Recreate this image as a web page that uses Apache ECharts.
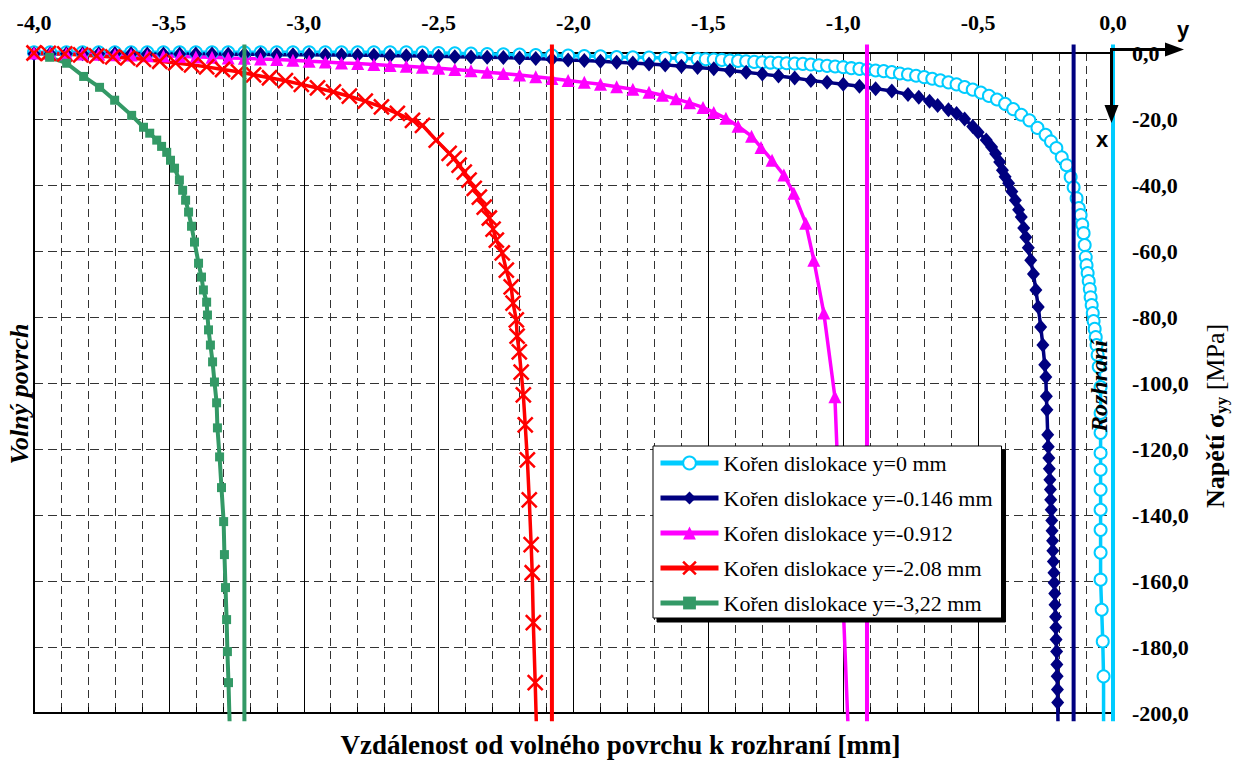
<!DOCTYPE html>
<html lang="cs">
<head>
<meta charset="UTF-8">
<script src="https://cdn.jsdelivr.net/npm/echarts@6/dist/echarts.min.js"></script>
<title>Napětí σyy</title>
<style>
  html, body { margin: 0; padding: 0; background: #fff; }
  #chart { width: 1239px; height: 763px; }
</style>
</head>
<body>
<div id="chart"></div>
<script>
// hodnoty: [vzdálenost mm, napětí MPa]
const names = ['Kořen dislokace y=0 mm', 'Kořen dislokace y=-0.146 mm', 'Kořen dislokace y=-0.912',
  'Kořen dislokace y=-2.08 mm', 'Kořen dislokace y=-3,22 mm'];
const rootX = [0, -0.146, -0.912, -2.08, -3.22];   // polohy kořenů dislokací
const rootY = [2.6, -202.5];                       // svislé čáry kořenů
const xTicks = { min: -4, max: 0, step: 0.5 };
const yTicks = { min: -200, max: 0, step: 20 };

const skyData = [
  [-4.00,0.2],[-3.94,0.2],[-3.88,0.2],[-3.82,0.2],[-3.76,0.2],[-3.70,0.2],[-3.64,0.2],[-3.58,0.2],[-3.52,0.2],[-3.46,0.2],
  [-3.40,0.2],[-3.34,0.2],[-3.28,0.2],[-3.22,0.2],[-3.16,0.2],[-3.10,0.2],[-3.04,0.2],[-2.98,0.2],[-2.92,0.2],[-2.86,0.2],
  [-2.80,0.2],[-2.74,0.2],[-2.68,0.2],[-2.62,0.2],[-2.56,0.1],[-2.50,0.0],[-2.44,-0.1],[-2.38,-0.2],[-2.32,-0.3],[-2.26,-0.4],
  [-2.20,-0.5],[-2.14,-0.6],[-2.08,-0.7],[-2.02,-0.8],[-1.96,-0.9],[-1.90,-1.0],[-1.84,-1.2],[-1.78,-1.3],[-1.72,-1.4],[-1.66,-1.5],
  [-1.60,-1.6],[-1.54,-1.8],
  [-1.51,-1.9],[-1.48,-2.0],[-1.45,-2.1],[-1.42,-2.3],[-1.39,-2.4],[-1.36,-2.5],[-1.33,-2.7],[-1.30,-2.8],[-1.27,-2.9],[-1.24,-3.0],
  [-1.21,-3.1],[-1.18,-3.2],[-1.15,-3.3],[-1.12,-3.5],[-1.09,-3.7],[-1.06,-3.9],[-1.03,-4.1],[-1.00,-4.3],[-0.97,-4.6],[-0.94,-4.8],
  [-0.91,-5.0],[-0.88,-5.3],[-0.85,-5.5],[-0.82,-5.8],[-0.79,-6.2],[-0.76,-6.5],[-0.73,-6.9],[-0.70,-7.3],[-0.67,-7.8],[-0.64,-8.3],
  [-0.61,-8.9],[-0.58,-9.5],[-0.55,-10.3],[-0.52,-11.1],[-0.49,-12.0],[-0.46,-13.0],[-0.43,-14.1],[-0.40,-15.4],[-0.37,-17.0],[-0.34,-18.7],
  [-0.31,-20.4],[-0.28,-22.7],[-0.25,-24.8],[-0.23,-26.8],[-0.21,-28.8],[-0.19,-31.6],
  [-0.172,-34.0],[-0.157,-37.6],[-0.146,-40.7],[-0.135,-44.0],[-0.127,-47.0],[-0.120,-49.1],[-0.114,-52.0],[-0.109,-54.6],[-0.105,-58.2],[-0.101,-61.8],
  [-0.098,-64.3],[-0.094,-66.7],[-0.090,-69.1],[-0.086,-71.5],[-0.083,-74.0],[-0.079,-76.4],[-0.075,-78.8],[-0.072,-81.2],[-0.068,-83.6],[-0.064,-86.1],
  [-0.061,-88.5],[-0.057,-91.5],[-0.053,-95.1],[-0.046,-101.2],[-0.046,-109.1],[-0.046,-115.1],[-0.046,-121.2],[-0.046,-126.3],[-0.046,-132.3],[-0.046,-138.4],
  [-0.046,-144.5],[-0.046,-151.4],[-0.046,-159.6],[-0.042,-168.7],[-0.038,-178.3],[-0.035,-188.9],[-0.035,-202.5]
];

const navyData = [
  [-4.00,-0.2],[-3.94,-0.2],[-3.88,-0.2],[-3.82,-0.2],[-3.76,-0.2],[-3.70,-0.2],[-3.64,-0.2],[-3.58,-0.3],[-3.52,-0.3],[-3.46,-0.3],
  [-3.40,-0.3],[-3.34,-0.3],[-3.28,-0.4],[-3.22,-0.4],[-3.16,-0.4],[-3.10,-0.5],[-3.04,-0.5],[-2.98,-0.5],[-2.92,-0.6],[-2.86,-0.6],
  [-2.80,-0.7],[-2.74,-0.7],[-2.68,-0.8],[-2.62,-0.8],[-2.56,-0.9],[-2.50,-1.0],[-2.44,-1.1],[-2.38,-1.2],[-2.32,-1.3],[-2.26,-1.4],
  [-2.20,-1.5],[-2.14,-1.7],[-2.08,-1.9],[-2.02,-2.1],[-1.96,-2.3],[-1.90,-2.5],[-1.84,-2.8],[-1.78,-3.0],[-1.72,-3.3],[-1.66,-3.6],
  [-1.60,-4.0],[-1.54,-4.4],[-1.48,-4.8],[-1.42,-5.3],[-1.36,-5.8],[-1.30,-6.4],[-1.24,-7.0],[-1.18,-7.6],[-1.12,-8.3],[-1.06,-8.9],
  [-1.00,-9.5],[-0.94,-10.1],[-0.88,-10.8],[-0.82,-11.5],[-0.76,-12.6],[-0.72,-13.4],[-0.68,-14.6],[-0.65,-15.9],[-0.61,-17.2],[-0.58,-18.3],
  [-0.55,-20.0],[-0.52,-22.3],[-0.50,-24.0],[-0.47,-26.4],[-0.45,-28.5],[-0.435,-30.5],[-0.42,-33.0],[-0.41,-35.5],[-0.40,-37.5],[-0.387,-39.5],
  [-0.375,-42.0],[-0.362,-44.6],[-0.350,-47.5],[-0.340,-49.7],[-0.331,-53.0],[-0.323,-55.8],[-0.314,-59.0],[-0.305,-62.8],[-0.295,-67.0],[-0.286,-71.8],
  [-0.277,-77.0],[-0.268,-83.0],[-0.260,-88.5],[-0.253,-94.5],[-0.249,-98.2],[-0.247,-104.0],[-0.245,-108.1],[-0.242,-115.7],[-0.240,-119.3],[-0.238,-122.7],
  [-0.236,-126.0],[-0.234,-129.3],[-0.232,-132.3],[-0.231,-135.4],[-0.229,-138.4],[-0.227,-141.7],[-0.226,-144.8],[-0.224,-147.8],[-0.223,-150.8],[-0.221,-154.1],
  [-0.219,-157.5],[-0.218,-160.5],[-0.216,-163.8],[-0.215,-167.2],[-0.213,-170.8],[-0.212,-174.1],[-0.211,-177.7],[-0.209,-181.4],[-0.208,-185.3],[-0.207,-188.9],
  [-0.206,-192.9],[-0.205,-196.8],[-0.204,-202.5]
];

const magentaData = [
  [-4.00,0.0],[-3.94,-0.1],[-3.88,-0.2],[-3.82,-0.3],[-3.76,-0.4],[-3.70,-0.5],[-3.64,-0.6],[-3.58,-0.8],[-3.52,-0.9],[-3.46,-1.0],
  [-3.40,-1.2],[-3.34,-1.3],[-3.28,-1.5],[-3.22,-1.6],[-3.16,-1.8],[-3.10,-2.0],[-3.04,-2.2],[-2.98,-2.5],[-2.92,-2.7],[-2.86,-3.0],
  [-2.80,-3.2],[-2.74,-3.5],[-2.68,-3.8],[-2.62,-4.0],[-2.56,-4.3],[-2.50,-4.6],[-2.44,-5.0],[-2.38,-5.4],[-2.32,-5.8],[-2.26,-6.2],
  [-2.20,-6.7],[-2.14,-7.2],[-2.08,-7.7],[-2.02,-8.3],[-1.96,-8.9],[-1.90,-9.5],[-1.84,-10.2],[-1.78,-11.0],[-1.72,-11.9],[-1.67,-12.8],
  [-1.62,-13.9],[-1.57,-15.1],[-1.52,-16.5],[-1.48,-18.0],[-1.435,-19.8],[-1.39,-22.2],[-1.34,-25.2],[-1.305,-28.6],[-1.264,-32.5],[-1.22,-37.0],
  [-1.183,-42.5],[-1.139,-51.6],[-1.109,-62.8],[-1.072,-78.8],[-1.031,-104.2],[-0.983,-202.5]
];

const redData = [
  [-4.00,0.0],[-3.947,-0.1],[-3.886,-0.3],[-3.827,-0.6],[-3.768,-0.9],[-3.708,-1.2],[-3.653,-1.5],[-3.594,-1.9],[-3.534,-2.5],[-3.475,-3.0],
  [-3.416,-3.6],[-3.360,-4.2],[-3.301,-5.0],[-3.242,-5.7],[-3.186,-6.6],[-3.127,-7.5],[-3.068,-8.4],[-3.009,-9.5],[-2.949,-10.6],[-2.890,-11.8],
  [-2.831,-13.1],[-2.772,-14.6],[-2.712,-16.3],[-2.653,-18.3],[-2.597,-20.4],[-2.560,-21.9],[-2.509,-26.4],[-2.461,-30.4],[-2.442,-31.9],[-2.424,-34.0],
  [-2.405,-36.1],[-2.387,-38.5],[-2.368,-41.0],[-2.349,-43.7],[-2.331,-46.7],[-2.312,-50.0],[-2.298,-53.4],[-2.286,-56.7],[-2.264,-60.6],[-2.249,-65.8],
  [-2.231,-70.9],[-2.224,-75.8],[-2.212,-80.9],[-2.209,-85.8],[-2.201,-90.6],[-2.194,-96.7],[-2.186,-103.6],[-2.179,-112.7],[-2.171,-123.3],[-2.164,-135.4],
  [-2.157,-149.0],[-2.153,-157.5],[-2.149,-172.6],[-2.142,-190.8],[-2.138,-202.5]
];

const greenData = [
  [-3.942,-1.3],[-3.879,-3.1],[-3.816,-7.1],[-3.757,-10.4],[-3.701,-14.3],[-3.638,-18.9],[-3.594,-22.5],[-3.571,-24.3],[-3.545,-26.4],[-3.527,-28.3],
  [-3.508,-30.1],[-3.494,-32.5],[-3.479,-34.9],[-3.461,-38.5],[-3.449,-41.6],[-3.438,-44.6],[-3.427,-48.2],[-3.416,-52.5],[-3.405,-57.3],[-3.390,-63.7],
  [-3.379,-67.9],[-3.372,-71.8],[-3.360,-75.5],[-3.357,-79.4],[-3.353,-83.9],[-3.346,-88.5],[-3.338,-93.6],[-3.331,-99.7],[-3.323,-106.0],[-3.320,-113.6],
  [-3.312,-122.4],[-3.305,-131.7],[-3.297,-142.0],[-3.294,-152.0],[-3.290,-162.0],[-3.286,-171.7],[-3.283,-181.4],[-3.279,-190.8],[-3.275,-202.5]
];

const colors = ['#00CCFF', '#000080', '#FF00FF', '#FF0000', '#339966'];
const symbols = ['emptyCircle', 'diamond', 'triangle', 'path://M0,0L10,10M10,0L0,10', 'rect'];
const symbolSizes = [12, [13, 15], 13, 15, 9];
const lineWidths = [3.5, 3.5, 3.5, 3.5, 4];
const curves = [skyData, navyData, magentaData, redData, greenData];

const serif = 'Liberation Serif, Times New Roman, serif';
const fmt = v => (Math.abs(v) < 1e-9 ? 0 : v).toFixed(1).replace('.', ',');

// poslední bod leží pod osou, bez značky
const withEnd = arr => arr.map((p, i) => i === arr.length - 1 ? { value: p, symbol: 'none' } : p);

const series = [];
curves.forEach((d, i) => {
    const stroked = i === 0 || i === 3;
    series.push({
        name: names[i],
        type: 'line',
        data: withEnd(d),
        symbol: symbols[i],
        symbolSize: symbolSizes[i],
        clip: false,
        z: 2,
        lineStyle: { color: colors[i], width: lineWidths[i] },
        itemStyle: stroked
            ? { color: colors[i], borderColor: colors[i], borderWidth: 2.5 }
            : { color: colors[i] },
        emphasis: { disabled: true }
    });
});
rootX.forEach((x, i) => {
    series.push({
        name: 'root' + i,
        type: 'line',
        data: [[x, rootY[0]], [x, rootY[1]]],
        symbol: 'none',
        clip: false,
        silent: true,
        z: 3,
        lineStyle: { color: colors[i], width: 4 }
    });
});

const chart = echarts.init(document.getElementById('chart'), null, { renderer: 'svg' });
chart.setOption({
    animation: false,
    backgroundColor: '#fff',
    grid: { left: 34, right: 126, top: 53, bottom: 50, show: true, borderColor: '#000', borderWidth: 2 },
    legend: {
        orient: 'vertical',
        left: 653, top: 446,
        data: names.map((n, i) => i === 3
            ? { name: n, itemStyle: { borderColor: colors[3], borderWidth: 2.5 } }
            : n),
        itemWidth: 58, itemHeight: 16, itemGap: 13,
        padding: [6, 9, 4, 5],
        backgroundColor: '#fff',
        borderColor: '#000', borderWidth: 1,
        shadowColor: '#000', shadowBlur: 0.1, shadowOffsetX: 4, shadowOffsetY: 4,
        lineStyle: { width: 5 },
        textStyle: { fontFamily: serif, fontSize: 22, lineHeight: 22, color: '#000' },
        selectedMode: false,
        z: 20
    },
    xAxis: [{
        type: 'value', position: 'top',
        min: xTicks.min, max: xTicks.max, interval: xTicks.step,
        axisLine: { show: true, lineStyle: { color: '#000', width: 2 } },
        axisTick: { show: false },
        axisLabel: { formatter: fmt, fontFamily: serif, fontWeight: 'bold', fontSize: 22, color: '#000', margin: 20 },
        splitLine: { show: true, lineStyle: { color: '#000', width: 1 } },
        minorTick: { show: false, splitNumber: 5 },
        minorSplitLine: { show: true, lineStyle: { color: '#333', width: 1, type: [8, 5] } }
    }, {
        type: 'value', position: 'bottom',
        min: xTicks.min, max: xTicks.max, interval: xTicks.step,
        name: 'Vzdálenost od volného povrchu k rozhraní [mm]',
        nameLocation: 'middle', nameGap: 18,
        nameTextStyle: { fontFamily: serif, fontWeight: 'bold', fontSize: 27, color: '#000', padding: [0, 0, 0, 94] },
        axisLine: { show: true, lineStyle: { color: '#000', width: 2 } },
        axisTick: { show: true, inside: true, length: 6, lineStyle: { color: '#000' } },
        minorTick: { show: true, splitNumber: 5, length: 6, lineStyle: { color: '#000' } },
        axisLabel: { show: false },
        splitLine: { show: false }
    }],
    yAxis: {
        type: 'value', position: 'right',
        min: yTicks.min, max: yTicks.max, interval: yTicks.step,
        axisLine: { show: true, lineStyle: { color: '#000', width: 2 } },
        axisTick: { show: false },
        axisLabel: { formatter: fmt, fontFamily: serif, fontWeight: 'bold', fontSize: 22, color: '#000', margin: 19 },
        splitLine: { show: true, lineStyle: { color: '#333', width: 1, type: [9, 5] } }
    },
    graphic: [
        { type: 'text', x: 19, y: 394, rotation: Math.PI / 2, z: 30,
          style: { text: 'Volný povrch', fontFamily: serif, fontWeight: 'bold', fontStyle: 'italic', fontSize: 26,
                   fill: '#000', align: 'center', verticalAlign: 'middle' } },
        { type: 'text', x: 1099, y: 386, rotation: Math.PI / 2, z: 30,
          style: { text: 'Rozhraní', fontFamily: serif, fontWeight: 'bold', fontStyle: 'italic', fontSize: 24,
                   fill: '#000', align: 'center', verticalAlign: 'middle' } },
        { type: 'text', x: 1215, y: 416, rotation: Math.PI / 2, z: 30,
          style: { text: '{b|Napětí σ}{s|yy}{r| [MPa]}', align: 'center', verticalAlign: 'middle', fill: '#000',
                   rich: {
                       b: { fontFamily: serif, fontWeight: 'bold', fontSize: 26, fill: '#000' },
                       s: { fontFamily: serif, fontWeight: 'bold', fontSize: 17, padding: [12, 0, 0, 0], fill: '#000' },
                       r: { fontFamily: serif, fontSize: 26, fill: '#000' }
                   } } },
        // souřadnicový systém x, y
        { type: 'line', z: 30, shape: { x1: 1111, y1: 49.5, x2: 1170, y2: 49.5 }, style: { stroke: '#000', lineWidth: 3 } },
        { type: 'polygon', z: 30, shape: { points: [[1165, 42.5], [1184, 49.5], [1165, 56.5]] }, style: { fill: '#000' } },
        { type: 'line', z: 30, shape: { x1: 1111.5, y1: 48, x2: 1111.5, y2: 110 }, style: { stroke: '#000', lineWidth: 3 } },
        { type: 'polygon', z: 30, shape: { points: [[1104.5, 105], [1111.5, 123], [1118.5, 105]] }, style: { fill: '#000' } },
        { type: 'text', x: 1183, y: 29, z: 30,
          style: { text: 'y', fontFamily: 'Liberation Sans, Arial, sans-serif', fontWeight: 'bold', fontSize: 22,
                   fill: '#000', align: 'center', verticalAlign: 'middle' } },
        { type: 'text', x: 1102, y: 139, z: 30,
          style: { text: 'x', fontFamily: 'Liberation Sans, Arial, sans-serif', fontWeight: 'bold', fontSize: 22,
                   fill: '#000', align: 'center', verticalAlign: 'middle' } }
    ],
    series: series
});
</script>
</body>
</html>
